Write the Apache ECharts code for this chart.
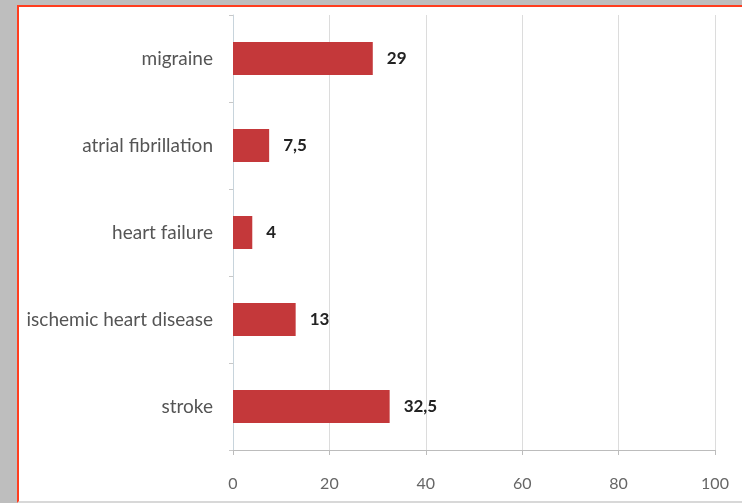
<!DOCTYPE html>
<html>
<head>
<meta charset="utf-8">
<script src="https://cdn.jsdelivr.net/npm/echarts@6/dist/echarts.min.js"></script>
<style>
  html, body { margin: 0; padding: 0; background: #bebebe; overflow: hidden; }
  #panel { position: absolute; left: 17px; top: 5px; width: 760px; height: 494px;
           background: #fff; border: 2px solid #ff3d1f; border-bottom: 2px solid #d8d8d8; }
  #chart { position: absolute; left: 0; top: 0; width: 742px; height: 503px; }
</style>
</head>
<body>
<div id="panel"></div>
<div id="chart"></div>
<script>
// categories from bottom to top
var categories = ['stroke', 'ischemic heart disease', 'heart failure', 'atrial fibrillation', 'migraine'];
var values = [32.5, 13, 4, 7.5, 29];
var xTicks = [0, 20, 40, 60, 80, 100];

var chart = echarts.init(document.getElementById('chart'));
var option = {
    backgroundColor: 'transparent',
    animation: false,
    grid: { left: 233, right: 27, top: 15, bottom: 53 },
    xAxis: {
        type: 'value',
        min: xTicks[0],
        max: xTicks[xTicks.length - 1],
        interval: 20,
        axisLine: { show: true, lineStyle: { color: '#bcbcbc' } },
        axisTick: { show: true, length: 5, lineStyle: { color: '#bcbcbc' } },
        splitLine: { show: true, lineStyle: { color: '#dcdcdc' } },
        axisLabel: { color: '#666', fontFamily: 'Lato', fontSize: 16, margin: 26 }
    },
    yAxis: {
        type: 'category',
        data: categories,
        axisLine: { show: true, lineStyle: { color: '#c8d4dc' } },
        axisTick: { show: true, length: 4, lineStyle: { color: '#c8c8c8' } },
        axisLabel: { color: '#555', fontFamily: 'Lato', fontSize: 19, margin: 20 }
    },
    series: [{
        type: 'bar',
        data: values,
        barWidth: 33,
        itemStyle: { color: '#c4383a' },
        label: {
            show: true,
            position: 'right',
            distance: 14,
            color: '#222',
            fontFamily: 'Lato',
            fontWeight: 'bold',
            fontSize: 17,
            formatter: function (p) { return String(p.value).replace('.', ','); }
        }
    }]
};
chart.setOption(option);
</script>
</body>
</html>
